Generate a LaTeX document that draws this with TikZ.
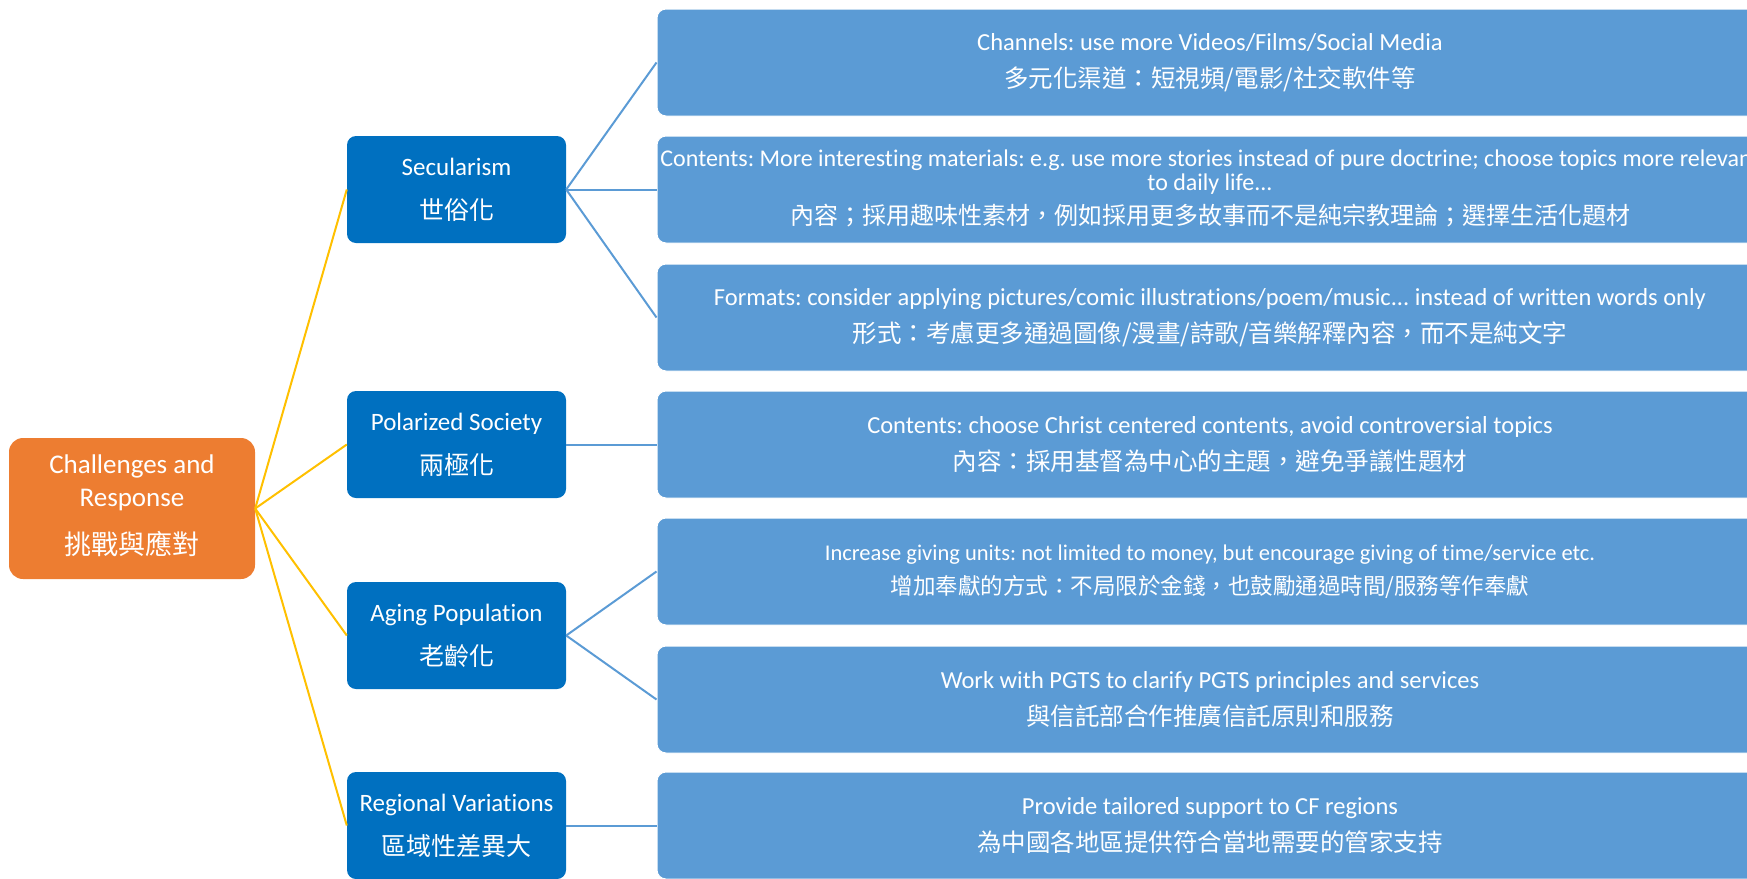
\documentclass[tikz,border=0pt]{standalone}
\usepackage{fontspec}
\setmainfont{Carlito}[Ligatures=NoCommon]
\newfontfamily\cjk{Noto Sans CJK TC}
\usetikzlibrary{positioning}
\frenchspacing

\definecolor{rootorange}{HTML}{ED7D31}
\definecolor{topicblue}{HTML}{0070C0}
\definecolor{itemblue}{HTML}{5B9BD5}
\definecolor{linkyellow}{HTML}{FFC000}

\begin{document}
\begin{tikzpicture}[x=1pt,y=-1pt,
        rootbox/.style={fill=rootorange,rounded corners=14pt,minimum width=246pt,minimum height=141pt,
            inner sep=2pt,text=white,align=center,font=\fontsize{27}{33}\selectfont},
        topicbox/.style={fill=topicblue,rounded corners=9pt,minimum width=219pt,minimum height=107pt,
            inner sep=2pt,text=white,align=center,font=\fontsize{25}{44}\selectfont},
        itembox/.style={fill=itemblue,draw=white,line width=1pt,rounded corners=9pt,minimum width=1106pt,
            minimum height=107pt,inner sep=2pt,text=white,align=center,font=\fontsize{24.5}{37}\selectfont},
        yellowlink/.style={linkyellow,line width=2pt},
        bluelink/.style={itemblue,line width=2pt}]
    \useasboundingbox (0,0) rectangle (1747,878);
    \clip (0,0) rectangle (1747,878);

    % root
    \node[rootbox] (chal) at (132,508.5) {Challenges and\\Response\\[15pt]{\cjk 挑戰與應對}\rule[-7pt]{0pt}{0pt}};

    % challenges
    \node[topicbox] (secu) at (456.5,189.5) {Secularism\\{\cjk 世俗化}};
    \node[topicbox] (pola) at (456.5,444.5) {Polarized Society\\{\cjk 兩極化}};
    \node[topicbox] (agin) at (456.5,635.5) {Aging Population\\{\cjk 老齡化}};
    \node[topicbox] (regi) at (456.5,825.5) {Regional Variations\\{\cjk 區域性差異大}};

    % responses
    \node[itembox] (chan) at (1210,62.5) {Channels: use more Videos/Films/Social Media\\{\cjk 多元化渠道：短視頻/電影/社交軟件等}};
    \node[itembox,font=\fontsize{24}{24}\selectfont] (cont) at (1210,189.5)
        {Contents: More interesting materials: e.g. use more stories instead of pure doctrine; choose topics more relevant\\to daily life...\\[9pt]{\cjk\fontsize{24}{24}\selectfont 內容；採用趣味性素材，例如採用更多故事而不是純宗教理論；選擇生活化題材}\rule[-5pt]{0pt}{0pt}};
    \node[itembox] (form) at (1210,317.5) {Formats: consider applying pictures/comic illustrations/poem/music... instead of written words only\\{\cjk 形式：考慮更多通過圖像/漫畫/詩歌/音樂解釋內容，而不是純文字}};
    \node[itembox] (christ) at (1210,444.5) {Contents: choose Christ centered contents, avoid controversial topics\\{\cjk 內容：採用基督為中心的主題，避免爭議性題材}};
    \node[itembox,font=\fontsize{22.5}{34}\selectfont] (give) at (1210,571.5) {Increase giving units: not limited to money, but encourage giving of time/service etc.\\{\cjk 增加奉獻的方式：不局限於金錢，也鼓勵通過時間/服務等作奉獻}};
    \node[itembox] (pgts) at (1210,699.5) {Work with PGTS to clarify PGTS principles and services\\{\cjk 與信託部合作推廣信託原則和服務}};
    \node[itembox] (tail) at (1210,825.5) {Provide tailored support to CF regions\\{\cjk 為中國各地區提供符合當地需要的管家支持}};

    % links
    \foreach \t in {secu,pola,agin,regi} {
        \draw[yellowlink] (chal.east) -- (\t.west);
    }
    \foreach \t/\i in {secu/chan,secu/cont,secu/form,pola/christ,agin/give,agin/pgts,regi/tail} {
        \draw[bluelink] (\t.east) -- (\i.west);
    }
\end{tikzpicture}
\end{document}
